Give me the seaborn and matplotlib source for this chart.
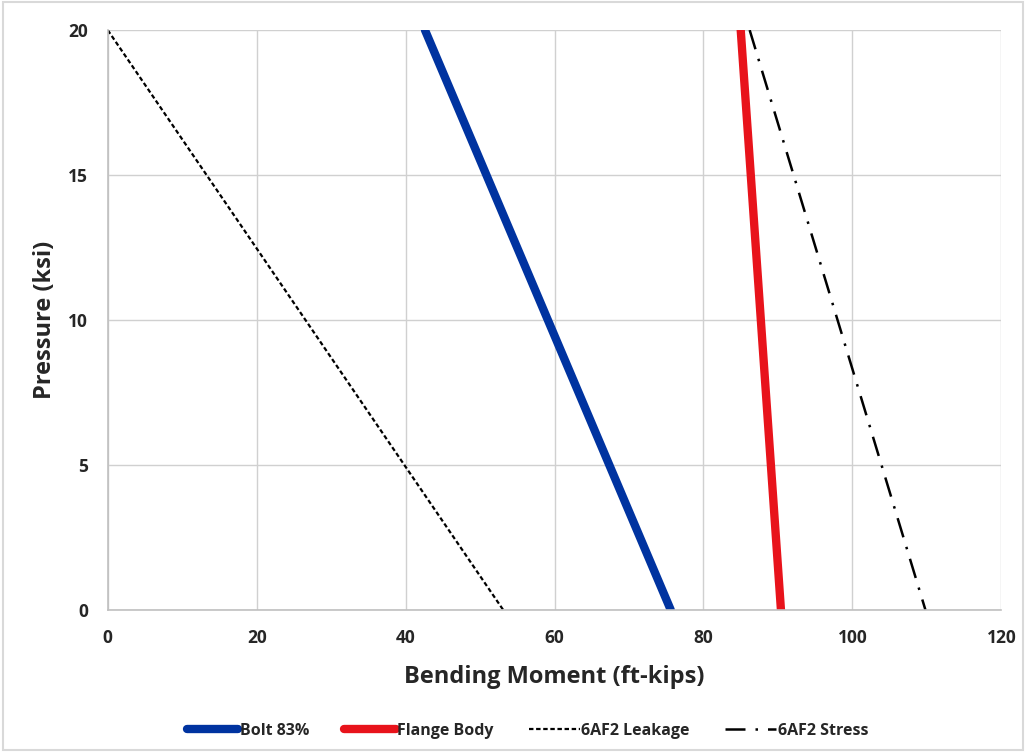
import matplotlib
matplotlib.use("Agg")
import matplotlib.pyplot as plt
import seaborn as sns
from matplotlib.patches import Rectangle

pressure = [20, 0]
bolt_83 = [42.6, 75.6]
flange_body = [85.0, 90.4]
leakage_6af2 = [0.0, 53.1]
stress_6af2 = [86.2, 109.8]

x_ticks = [0, 20, 40, 60, 80, 100, 120]
y_ticks = [0, 5, 10, 15, 20]

sns.set_theme(style="whitegrid")
plt.rcParams['font.family'] = ['Open Sans', 'DejaVu Sans']

fig = plt.figure(figsize=(10.26, 7.52), dpi=100)
ax = fig.add_axes([0.105, 0.189, 0.871, 0.771])

sns.lineplot(x=bolt_83, y=pressure, ax=ax, color='#0033a0', linewidth=6,
             sort=False, label='Bolt 83%')
sns.lineplot(x=flange_body, y=pressure, ax=ax, color='#e8131b', linewidth=6,
             sort=False, label='Flange Body')
sns.lineplot(x=leakage_6af2, y=pressure, ax=ax, color='black', linewidth=1.6,
             sort=False, label='6AF2 Leakage')
ax.lines[-1].set_dashes((2, 1.2))
sns.lineplot(x=stress_6af2, y=pressure, ax=ax, color='black', linewidth=1.8,
             sort=False, label='6AF2 Stress')
ax.lines[-1].set_dashes((8, 4, 1, 4))

ax.set_xlim(0, 120)
ax.set_ylim(0, 20)
ax.set_xticks(x_ticks)
ax.set_yticks(y_ticks)
ax.grid(True, color='#d0d0d0', linewidth=1)
for s in ['top', 'right']:
    ax.spines[s].set_visible(False)
for s in ['left', 'bottom']:
    ax.spines[s].set_color('#c0c0c0')
    ax.spines[s].set_linewidth(1.2)
ax.tick_params(axis='both', length=0, labelsize=12.5, pad=14)
for lab in ax.get_xticklabels() + ax.get_yticklabels():
    lab.set_fontweight('bold')
    lab.set_color('#262626')
ax.set_xlabel('Bending Moment (ft-kips)', fontsize=17, fontweight='bold',
              color='#262626', labelpad=13)
ax.set_ylabel('Pressure (ksi)', fontsize=17, fontweight='bold',
              color='#262626', labelpad=8)

leg = ax.legend(loc='upper center', bbox_to_anchor=(0.47, -0.17), ncol=4,
                frameon=False, fontsize=11.5, handlelength=3.2, columnspacing=2.2,
                handletextpad=0.1)
for t in leg.get_texts():
    t.set_fontweight('bold')
    t.set_color('#262626')

fig.patches.append(Rectangle((0.003, 0.003), 0.994, 0.994, transform=fig.transFigure,
                             fill=False, edgecolor='#d9d9d9', linewidth=1.5))

fig.savefig('out.png', dpi=100)
